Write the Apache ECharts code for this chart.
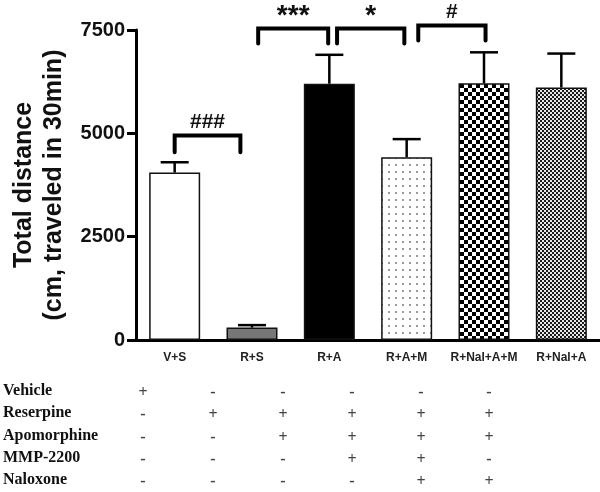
<!DOCTYPE html>
<html>
<head>
<meta charset="utf-8">
<script src="https://cdn.jsdelivr.net/npm/echarts@6/dist/echarts.min.js"></script>
<style>html,body{margin:0;padding:0;background:#fff}#c{width:600px;height:492px}</style>
</head>
<body>
<div id="c"></div>
<script>
// ---- data ----
var categories = ['V+S', 'R+S', 'R+A', 'R+A+M', 'R+Nal+A+M', 'R+Nal+A'];
var means = [4050, 300, 6200, 4420, 6210, 6110];
var sems = [250, 60, 700, 440, 750, 820];
var yTicks = [0, 2500, 5000, 7500];

var bracketFrom = [0, 1.08, 2.10, 3.15];
var bracketTo = [0.85, 1.985, 2.97, 4.02];
var bracketTop = [4950, 7536, 7536, 7609];
var bracketLeg = [4540, 7174, 7174, 7246];
var bracketLabels = ['###', '***', '*', '#'];

var tableRows = ['Vehicle', 'Reserpine', 'Apomorphine', 'MMP-2200', 'Naloxone'];
var tableMarks = [
  ['+', '-', '-', '-', '-', '-'],
  ['-', '+', '+', '+', '+', '+'],
  ['-', '-', '+', '+', '+', '+'],
  ['-', '-', '-', '+', '+', '-'],
  ['-', '-', '-', '-', '+', '+']
];

// ---- patterns ----
function makeCanvas(w, h, draw) {
  var c = document.createElement('canvas');
  c.width = w; c.height = h;
  draw(c.getContext('2d'));
  return c;
}
var dotPattern = makeCanvas(7, 7, function (g) {
  g.fillStyle = '#fff'; g.fillRect(0, 0, 7, 7);
  g.fillStyle = '#9a9a9a'; g.fillRect(3, 3, 2, 2);
});
var bigChecker = makeCanvas(8, 8, function (g) {
  g.fillStyle = '#fff'; g.fillRect(0, 0, 8, 8);
  g.fillStyle = '#000'; g.fillRect(0, 0, 4, 4); g.fillRect(4, 4, 4, 4);
});
var smallChecker = makeCanvas(4, 4, function (g) {
  g.fillStyle = '#e8e8e8'; g.fillRect(0, 0, 4, 4);
  g.fillStyle = '#1a1a1a'; g.fillRect(0, 0, 2, 2); g.fillRect(2, 2, 2, 2);
});
var fills = [
  '#ffffff', '#767676', '#000000',
  { image: dotPattern, repeat: 'repeat' },
  { image: bigChecker, repeat: 'repeat' },
  { image: smallChecker, repeat: 'repeat' }
];

var barData = means.map(function (v, i) {
  return { value: v, itemStyle: { color: fills[i] } };
});
var errData = means.map(function (v, i) { return [i, v, v + sems[i]]; });
var bracketData = bracketFrom.map(function (f, i) {
  return [f, bracketTo[i], bracketTop[i], bracketLeg[i], i];
});

function xAt(api, x, y) {
  var base = Math.floor(x);
  var p = api.coord([base, y]);
  var bw = api.size([1, 0])[0];
  return [p[0] + (x - base) * bw, p[1]];
}

// ---- table graphics ----
var graphics = [];
var colX = [143, 213, 283, 352, 421, 489];
var rowY = [393, 415, 438, 460, 482];
tableRows.forEach(function (name, r) {
  graphics.push({
    type: 'text', left: 3, top: rowY[r] - 10,
    style: { text: name, font: 'bold 16px "Liberation Serif", "Times New Roman", serif', fill: '#111' }
  });
  tableMarks[r].forEach(function (m, c) {
    graphics.push({
      type: 'text', x: colX[c], y: rowY[r],
      style: { text: m, font: 'bold 16px "Liberation Serif", serif', fill: '#444', align: 'center', verticalAlign: 'middle' }
    });
  });
});

var chart = echarts.init(document.getElementById('c'), null, { renderer: 'canvas' });
chart.setOption({
  animation: false,
  grid: { left: 136, right: 0, top: 30, bottom: 152, containLabel: false, outerBoundsMode: 'none' },
  xAxis: {
    type: 'category',
    data: categories,
    axisLine: { lineStyle: { color: '#000', width: 3 } },
    axisTick: { show: false },
    axisLabel: { interval: 0, color: '#222', fontWeight: 'bold', fontSize: 12, fontFamily: 'Liberation Sans, Arial, sans-serif', margin: 12 }
  },
  yAxis: {
    type: 'value',
    min: 0, max: 7500, interval: 2500,
    name: 'Total distance\n(cm, traveled in 30min)',
    nameLocation: 'middle',
    nameRotate: 90,
    nameGap: 66,
    nameTextStyle: { color: '#111', fontWeight: 'bold', fontSize: 25, lineHeight: 30, fontFamily: 'Liberation Sans, Arial, sans-serif' },
    axisLine: { show: true, lineStyle: { color: '#000', width: 3 } },
    axisTick: { show: true, length: 9, lineStyle: { color: '#000', width: 3 } },
    splitLine: { show: false },
    axisLabel: {
      color: '#111', fontWeight: 'bold', fontSize: 20, margin: 11,
      fontFamily: 'Liberation Sans, Arial, sans-serif',
      formatter: function (v) { return yTicks.indexOf(v) >= 0 ? String(v) : ''; }
    }
  },
  graphic: graphics,
  series: [
    {
      type: 'bar',
      data: barData,
      barWidth: 51,
      itemStyle: { borderColor: '#111', borderWidth: 1.5 },
      z: 2
    },
    {
      type: 'custom',
      data: errData,
      clip: false,
      z: 3,
      renderItem: function (params, api) {
        var i = api.value(0);
        var p0 = api.coord([i, api.value(1)]);
        var p1 = api.coord([i, api.value(2)]);
        var half = 14;
        return {
          type: 'group',
          children: [
            { type: 'line', shape: { x1: p0[0], y1: p0[1], x2: p1[0], y2: p1[1] }, style: { stroke: '#000', lineWidth: 2.5 } },
            { type: 'line', shape: { x1: p1[0] - half, y1: p1[1], x2: p1[0] + half, y2: p1[1] }, style: { stroke: '#000', lineWidth: 2.5 } }
          ]
        };
      }
    },
    {
      type: 'custom',
      data: bracketData,
      clip: false,
      z: 4,
      renderItem: function (params, api) {
        var f = api.value(0), t = api.value(1), top = api.value(2), leg = api.value(3);
        var idx = api.value(4);
        var a = xAt(api, f, top), b = xAt(api, t, top);
        var legY = api.coord([0, leg])[1];
        var lbl = bracketLabels[idx];
        var isStar = lbl.indexOf('*') >= 0;
        return {
          type: 'group',
          children: [
            {
              type: 'polyline',
              shape: { points: [[a[0], legY], [a[0], a[1]], [b[0], b[1]], [b[0], legY]] },
              style: { stroke: '#000', lineWidth: 4, fill: null, lineJoin: 'miter', lineCap: 'round' }
            },
            {
              type: 'text',
              x: (a[0] + b[0]) / 2,
              y: a[1] - (isStar ? -2 : 3),
              style: {
                text: lbl, align: 'center', verticalAlign: 'bottom',
                font: 'bold ' + (isStar ? 28 : 21) + 'px "Liberation Sans", Arial, sans-serif',
                fill: '#111'
              }
            }
          ]
        };
      }
    }
  ]
});
</script>
</body>
</html>
